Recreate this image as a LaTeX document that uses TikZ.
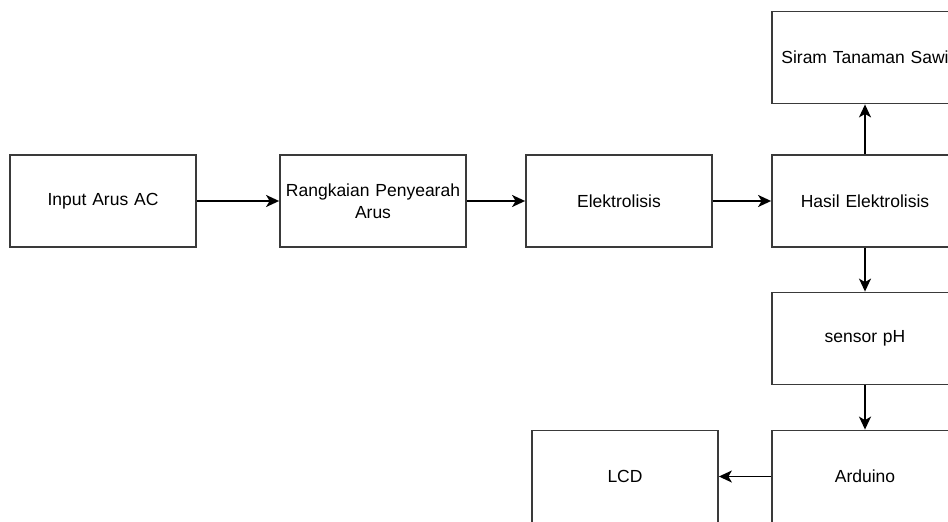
\documentclass[tikz,border=0pt]{standalone}
\usepackage{fontspec}
\setmainfont{Liberation Sans}
\usetikzlibrary{arrows.meta,positioning}
\definecolor{BoxLine}{HTML}{3A3A3A}
\tikzset{
  blok/.style={draw=BoxLine,fill=white,line width=1.8pt,minimum width=186pt,minimum height=92pt,
    align=center,text width=180pt,inner sep=0pt,font=\fontsize{17.5}{22}\selectfont},
  panah/.style={-{Stealth[length=13pt,width=12pt,inset=3.5pt]},line width=1.8pt}
}

\begin{document}
\begin{tikzpicture}[x=1pt,y=-1pt]
\useasboundingbox (0,0) rectangle (948,522);
\clip (0,0) rectangle (948,522);
\node[blok] (input) at (103,201) {Input Arus AC};
\node[blok] (penyearah) at (373,201) {Rangkaian Penyearah\\Arus};
\node[blok] (elektro) at (619,201) {Elektrolisis};
\node[blok] (hasil) at (865,201) {Hasil Elektrolisis};
\node[blok] (siram) at (865,57.5) {Siram Tanaman Sawi};
\node[blok] (sensor) at (865,338.5) {sensor pH};
\node[blok] (arduino) at (865,476.5) {Arduino};
\node[blok] (lcd) at (625,476.5) {LCD};
% alur
\draw[panah] (input)--(penyearah);\draw[panah] (penyearah)--(elektro);\draw[panah] (elektro)--(hasil);
\draw[panah] (hasil)--(siram);\draw[panah] (hasil)--(sensor);\draw[panah] (sensor)--(arduino);\draw[panah] (arduino)--(lcd);
\end{tikzpicture}
\end{document}
